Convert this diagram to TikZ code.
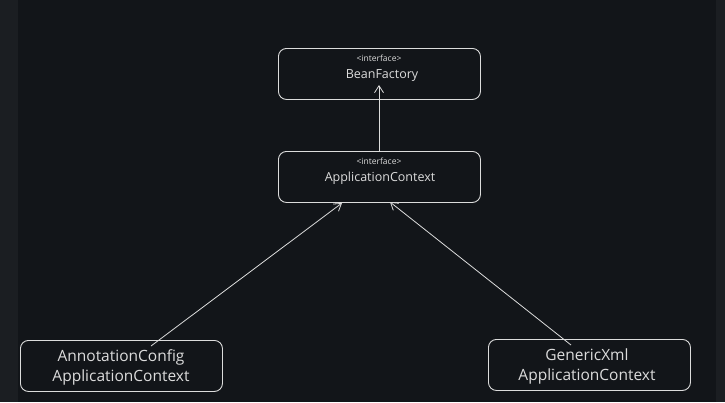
\documentclass[tikz,border=0pt]{standalone}
\usepackage{fontspec}
\setmainfont{Open Sans}
\usetikzlibrary{arrows.meta}
\definecolor{bgmain}{HTML}{121519}
\definecolor{bgside}{HTML}{1B1E22}
\definecolor{ink}{HTML}{DCDCDC}
\begin{document}
\begin{tikzpicture}[x=1pt,y=-1pt,
  box/.style={draw=ink, line width=0.9pt, rounded corners=8pt, minimum width=202pt, minimum height=51pt, inner sep=0pt, anchor=north west},
  small/.style={text=ink, font=\fontsize{8.5}{9}\selectfont, inner sep=0pt},
  main/.style={text=ink, font=\fontsize{12.5}{14}\selectfont, inner sep=0pt},
  big/.style={text=ink, font=\fontsize{15.5}{20}\selectfont, inner sep=0pt, align=center},
  conn/.style={draw=ink, line width=0.8pt, -{Straight Barb[length=7pt,width=9pt]}}]
\useasboundingbox (0,0) rectangle (725,402);
\fill[bgside] (0,0) rectangle (725,402);
\fill[bgmain] (18,0) rectangle (716,402);
% boxes
\node[box] (bf) at (278,48) {};
\node[box] (ac) at (278,151) {};
\node[box] (anno) at (20,340) {};
\node[box] (gen) at (488,339) {};
% texts
\node[small] (bfi) at (379,58) {<interface>};
\node[main] (bft) at (382,76) {BeanFactory};
\node[small] (aci) at (379,161) {<interface>};
\node[main] (act) at (380,178) {ApplicationContext};
\node[big] (annot) at (121,367) {AnnotationConfig\\ApplicationContext};
\node[big] (gent) at (587,366) {GenericXml\\ApplicationContext};
% connector anchors
\coordinate (t1) at (379,151);
\coordinate (h1) at (379,85);
\coordinate (t2) at (151,346);
\coordinate (h2) at (342,203);
\coordinate (t3) at (571,345);
\coordinate (h3) at (390,202);
\draw[conn] (t1) -- (h1);
\draw[conn] (t2) -- (h2);
\draw[conn] (t3) -- (h3);
\end{tikzpicture}
\end{document}
